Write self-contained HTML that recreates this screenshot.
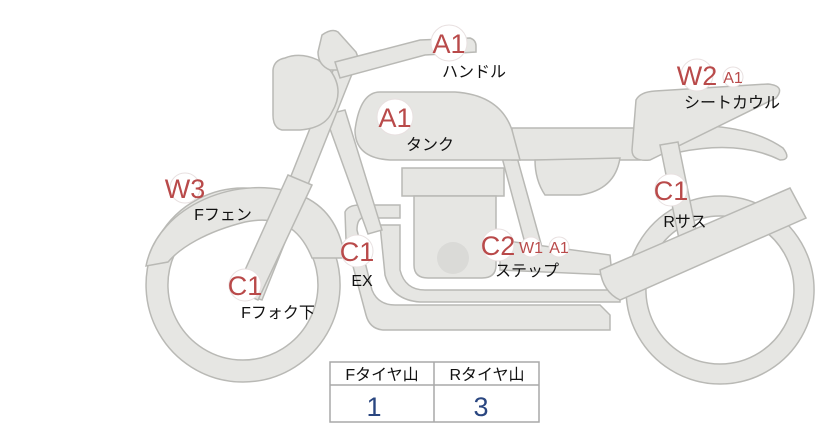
<!DOCTYPE html>
<html><head><meta charset="utf-8"><style>
body{margin:0;background:#fff;width:822px;height:425px;overflow:hidden;font-family:"Liberation Sans","Noto Sans CJK JP",sans-serif}
</style></head><body>
<svg width="822" height="425" viewBox="0 0 822 425" xmlns="http://www.w3.org/2000/svg">
<g fill="#e6e6e3" stroke="#b9b9b5" stroke-width="1.5">
<!-- rear wheel -->
<path fill-rule="evenodd" d="M720,196a94,94 0 1,0 0.1,0zM720,216a74,74 0 1,1 -0.1,0z"/>
<!-- front wheel -->
<path fill-rule="evenodd" d="M243,188a97,97 0 1,0 0.1,0zM243,210a75,75 0 1,1 -0.1,0z"/>
<!-- front fender -->
<path d="M146,266 C158,205 240,172 300,195 C325,205 340,225 345,258 L312,258 C300,228 280,215 245,222 C205,232 180,248 168,262 Z"/>
<!-- exhaust pipes -->
<path d="M345,212 Q348,205 360,205 L400,205 L400,218 L362,218 Q357,220 357,230 L372,290 Q378,305 395,305 L600,305 L610,315 L610,330 L385,330 Q370,330 366,315 L346,240 Z"/>
<path d="M380,225 L400,225 L400,270 Q405,290 425,290 L620,290 L620,302 L420,302 Q392,300 385,275 Z"/>
<!-- frame down tube -->
<path d="M325,115 L345,110 L382,230 L368,234 Z"/>
<!-- rear frame -->
<path d="M500,150 L515,150 L545,258 L530,262 Z"/>
<!-- engine -->
<rect x="402" y="168" width="102" height="28"/>
<path d="M414,196 L496,196 L496,265 Q496,278 482,278 L428,278 Q414,278 414,265 Z"/>
<circle cx="453" cy="258" r="16" fill="#dadad7" stroke="none"/>
<!-- step bar -->
<path d="M500,240 L610,255 L612,275 L500,270 Z"/>
<!-- side cover & frame -->
<path d="M512,128 L640,128 L640,160 L512,160 Z"/>
<path d="M535,160 L620,158 Q615,190 580,195 L545,195 Q535,180 535,160 Z"/>
<!-- tail fender -->
<path d="M650,128 Q740,118 783,148 Q792,160 780,160 Q740,140 680,152 Z"/>
<!-- seat -->
<path d="M636,100 Q640,92 655,91 L768,84 Q786,86 776,98 L650,160 Q632,162 632,150 Z"/>
<!-- rear shock -->
<path d="M660,145 L678,142 L700,250 L682,254 Z"/>
<!-- muffler -->
<path d="M600,270 L790,188 L806,218 L620,300 Q603,292 600,270 Z"/>
<!-- tank -->
<path d="M380,92 L455,92 Q500,95 512,130 L520,160 L390,160 Q355,158 355,130 Q360,92 380,92 Z"/>
<!-- fork -->
<path d="M338,58 L356,64 L262,300 L244,294 Z"/>
<path d="M288,175 L312,185 L258,300 L236,290 Z"/>
<!-- headlight -->
<path d="M285,58 Q300,52 318,60 L330,70 Q345,90 332,112 Q325,128 300,130 L282,130 Q273,128 273,115 L273,70 Q274,60 285,58 Z"/>
<path d="M322,35 Q332,28 338,32 L356,52 Q362,65 348,70 L330,70 Q318,65 318,52 Z"/>
<!-- handlebar -->
<path d="M335,62 L420,40 L470,38 Q476,40 476,46 L476,52 L425,55 L340,78 Z"/>
</g>
<g font-family="Liberation Sans,Noto Sans CJK JP,sans-serif">
<g fill="#fff" stroke="#e8e0e0" stroke-width="1">
<circle cx="449" cy="43" r="18"/><circle cx="395" cy="117" r="18"/>
<circle cx="185" cy="188" r="15"/><circle cx="245" cy="285" r="16"/>
<circle cx="357" cy="251" r="16"/><circle cx="498" cy="245" r="16"/>
<circle cx="531" cy="247" r="10"/><circle cx="559" cy="247" r="10"/>
<circle cx="697" cy="75" r="16"/><circle cx="733" cy="77" r="10"/>
<circle cx="671" cy="190" r="16"/>
</g>
<g fill="#b94a4a" font-size="27" text-anchor="middle">
<text x="449" y="53">A1</text><text x="395" y="127">A1</text>
<text x="185" y="198">W3</text><text x="245" y="295">C1</text>
<text x="357" y="261">C1</text><text x="498" y="255">C2</text>
<text x="697" y="85">W2</text><text x="671" y="200">C1</text>
<text x="531" y="253" font-size="16">W1</text><text x="559" y="253" font-size="16">A1</text>
<text x="733" y="83" font-size="16">A1</text>
</g>
<g fill="#111" font-size="16" text-anchor="middle">
<text x="474" y="77">ハンドル</text><text x="430" y="150">タンク</text>
<text x="223" y="220">Fフェン</text><text x="278" y="318">Fフォク下</text>
<text x="362" y="286">EX</text><text x="527" y="276">ステップ</text>
<text x="732" y="108">シートカウル</text><text x="685" y="227">Rサス</text>
</g>
<g stroke="#a8a8a8" stroke-width="1.5" fill="#fff">
<rect x="330" y="362" width="209" height="60"/>
<line x1="330" y1="385" x2="539" y2="385"/>
<line x1="434" y1="362" x2="434" y2="422"/>
</g>
<g font-size="16" fill="#111" text-anchor="middle">
<text x="382" y="380">Fタイヤ山</text><text x="487" y="380">Rタイヤ山</text>
</g>
<g font-size="27" fill="#2a4680" text-anchor="middle">
<text x="374" y="416">1</text><text x="481" y="416">3</text>
</g>
</g>
</svg>
</body></html>
